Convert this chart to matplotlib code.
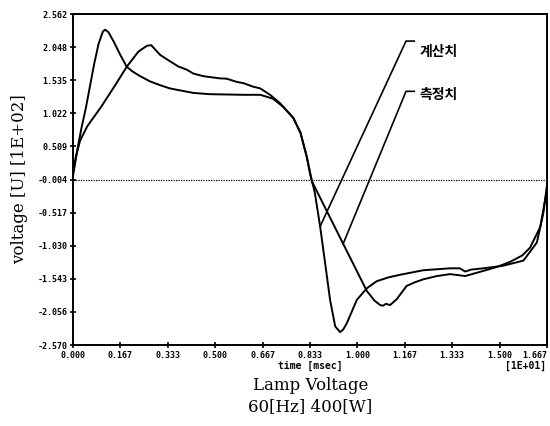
import numpy as np
import matplotlib
matplotlib.use("Agg")
from matplotlib import pyplot as plt
from matplotlib.font_manager import FontProperties

# calculated waveform (sharp peak)
t_calc = [0.000, 0.015, 0.030, 0.045, 0.060, 0.075, 0.090, 0.105, 0.113, 0.125, 0.145,
          0.165, 0.189, 0.210, 0.236, 0.270, 0.306, 0.340, 0.369, 0.422, 0.480, 0.540,
          0.600, 0.658, 0.681, 0.703, 0.740, 0.775, 0.800, 0.822, 0.834, 0.850, 0.869,
          0.904, 0.922, 0.939, 0.950, 0.963, 0.998, 1.033, 1.068, 1.110, 1.150, 1.232,
          1.326, 1.360, 1.379, 1.400, 1.443, 1.513, 1.584, 1.631, 1.654, 1.667]
v_calc = [0.05, 0.45, 0.80, 1.10, 1.45, 1.80, 2.10, 2.29, 2.32, 2.28, 2.12,
          1.94, 1.745, 1.67, 1.60, 1.52, 1.46, 1.41, 1.385, 1.34, 1.32, 1.315,
          1.31, 1.31, 1.28, 1.25, 1.12, 0.95, 0.72, 0.35, 0.08, -0.20, -0.73,
          -1.87, -2.28, -2.37, -2.33, -2.23, -1.87, -1.69, -1.58, -1.52, -1.48, -1.41,
          -1.38, -1.38, -1.43, -1.40, -1.38, -1.34, -1.26, -0.98, -0.52, -0.08]

# measured waveform
t_meas = [0.000, 0.010, 0.025, 0.050, 0.100, 0.150, 0.189, 0.230, 0.260, 0.275, 0.306,
          0.341, 0.370, 0.400, 0.423, 0.457, 0.490, 0.517, 0.540, 0.576, 0.600, 0.634,
          0.658, 0.693, 0.728, 0.775, 0.800, 0.822, 0.840, 0.950, 1.033, 1.060, 1.080,
          1.091, 1.100, 1.115, 1.138, 1.173, 1.200, 1.232, 1.280, 1.326, 1.379, 1.443,
          1.490, 1.537, 1.580, 1.607, 1.643, 1.667]
v_meas = [0.10, 0.35, 0.60, 0.82, 1.13, 1.47, 1.745, 1.98, 2.07, 2.08, 1.93,
          1.83, 1.75, 1.70, 1.64, 1.60, 1.58, 1.565, 1.56, 1.51, 1.49, 1.435,
          1.41, 1.31, 1.18, 0.95, 0.72, 0.35, -0.03, -1.00, -1.73, -1.88, -1.95,
          -1.96, -1.93, -1.95, -1.86, -1.654, -1.60, -1.55, -1.50, -1.47, -1.50, -1.42,
          -1.36, -1.28, -1.18, -1.06, -0.74, -0.15]

x_ticks = [0.000, 0.167, 0.333, 0.500, 0.667, 0.833, 1.000, 1.167, 1.333, 1.500, 1.667]
y_ticks = [2.562, 2.048, 1.535, 1.022, 0.509, -0.004, -0.517, -1.030, -1.543, -2.056, -2.570]

fig = plt.figure(figsize=(5.5, 4.26), dpi=100)
ax = fig.add_axes([0.1327, 0.190, 0.862, 0.777])

ax.plot(t_calc, v_calc, color='black', lw=1.4)
ax.plot(t_meas, v_meas, color='black', lw=1.4)
ax.axhline(-0.004, color='black', lw=0.9, ls=(0, (1, 1)))

ax.set_xlim(0, 1.667)
ax.set_ylim(-2.570, 2.562)
ax.set_xticks(x_ticks)
ax.set_yticks(y_ticks)
ax.set_xticklabels(['%.3f' % x for x in x_ticks])
ax.set_yticklabels(['%.3f' % y for y in y_ticks])
tick_font = FontProperties(family='DejaVu Sans Mono', weight='bold', size=6)
for lab in ax.get_xticklabels() + ax.get_yticklabels():
    lab.set_fontproperties(tick_font)
# keep the last x label inside the figure
ax.get_xticklabels()[-1].set_horizontalalignment('right')
ax.tick_params(direction='inout', length=5, width=1.2, pad=1.5)
for s in ax.spines.values():
    s.set_linewidth(1.4)

# leader lines to the curve labels
ends = [(0.869, np.interp(0.869, t_calc, v_calc), 2.143, '계산치', 1.97),
        (0.950, np.interp(0.950, t_meas, v_meas), 1.364, '측정치', 1.30)]
for tx, ty, corner_y, name, text_y in ends:
    ax.plot([tx, 1.171, 1.200], [ty, corner_y, corner_y], color='black', lw=1.2)
    ax.text(1.220, text_y, name, family=['Noto Sans CJK KR', 'DejaVu Sans'],
            weight='bold', fontsize=10, va='center', ha='left')

ax.set_ylabel('voltage [U] [1E+02]', family='DejaVu Serif', fontsize=12, labelpad=7)
fig.text(0.564, 0.141, 'time [msec]', family='DejaVu Sans Mono', weight='bold',
         fontsize=7, ha='center', va='center')
fig.text(0.955, 0.141, '[1E+01]', family='DejaVu Sans Mono', weight='bold',
         fontsize=7, ha='center', va='center')
fig.text(0.564, 0.094, 'Lamp Voltage', family='DejaVu Serif', fontsize=12,
         ha='center', va='center')
fig.text(0.564, 0.045, '60[Hz] 400[W]', family='DejaVu Serif', fontsize=12,
         ha='center', va='center')

fig.savefig('out.png', dpi=100)
